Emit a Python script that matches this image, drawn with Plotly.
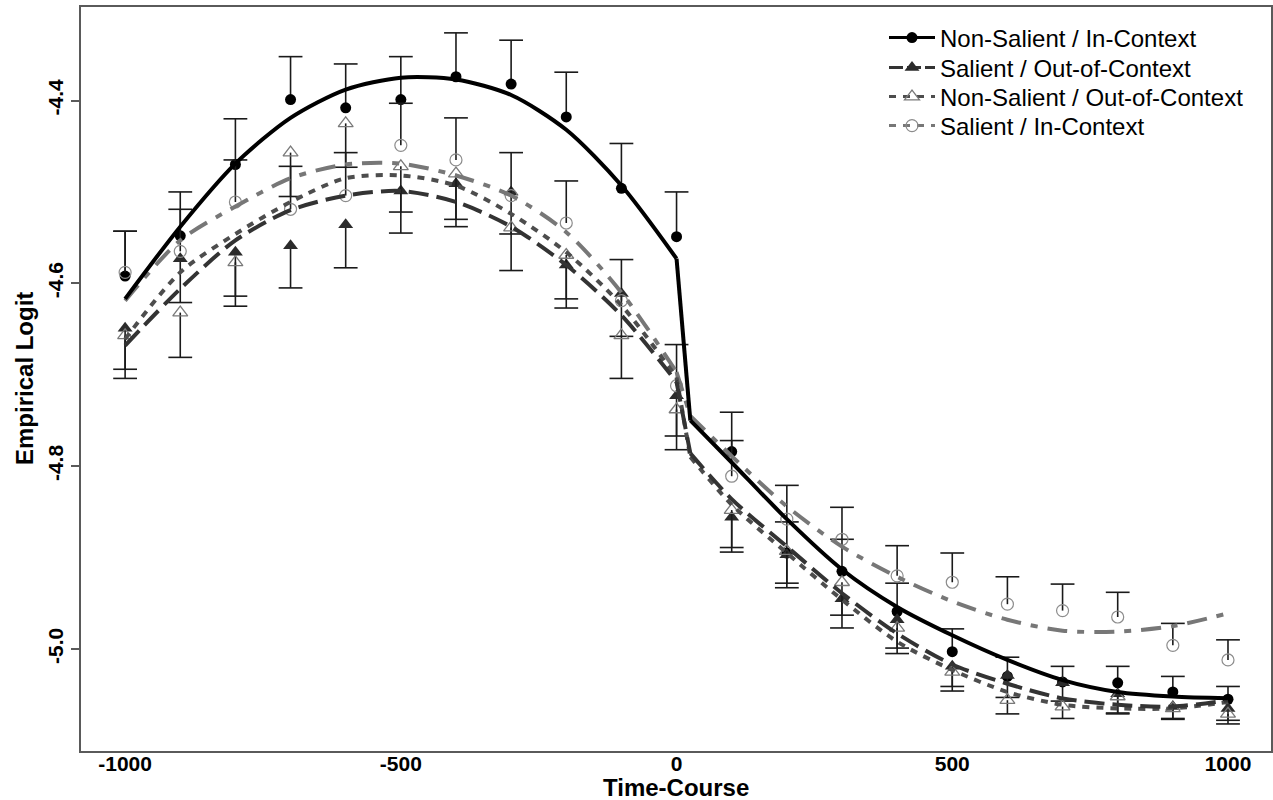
import plotly.graph_objects as go

# ---------------- data ----------------
time_points = [-1000, -900, -800, -700, -600, -500, -400, -300, -200, -100, 0,
               100, 200, 300, 400, 500, 600, 700, 800, 900, 1000]
fit_x_pre = [-1000, -900, -800, -700, -600, -500, -400, -300, -200, -100, 0]
fit_x_post = [25, 100, 200, 300, 400, 500, 600, 700, 800, 900, 1000]

# Non-Salient / In-Context (filled circles, upper error bars)
ns_ic_mean = [-4.592, -4.548, -4.470, -4.399, -4.408, -4.399, -4.374, -4.382, -4.418, -4.496, -4.549,
              -4.784, -4.895, -4.915, -4.959, -5.003, -5.030, -5.036, -5.037, -5.047, -5.055]
ns_ic_se = [0.049, 0.048, 0.050, 0.047, 0.048, 0.047, 0.048, 0.048, 0.049, 0.049, 0.049,
            0.043, 0.034, 0.035, 0.031, 0.025, 0.021, 0.017, 0.018, 0.017, 0.014]
ns_ic_fit_pre = [-4.617, -4.538, -4.469, -4.419, -4.388, -4.375, -4.377, -4.394, -4.432, -4.493, -4.573]
ns_ic_fit_post = [-4.750, -4.796, -4.858, -4.913, -4.954, -4.985, -5.012, -5.034, -5.047, -5.052, -5.054]

# Salient / Out-of-Context (filled triangles, lower error bars)
sal_oc_mean = [-4.649, -4.573, -4.566, -4.559, -4.536, -4.499, -4.491, -4.500, -4.580, -4.611, -4.723,
               -4.856, -4.897, -4.945, -4.968, -5.019, -5.029, -5.037, -5.049, -5.063, -5.065]
sal_oc_se = [0.045, 0.048, 0.048, 0.046, 0.047, 0.046, 0.047, 0.046, 0.047, 0.047, 0.044,
             0.038, 0.036, 0.032, 0.031, 0.022, 0.024, 0.020, 0.022, 0.014, 0.013]
sal_oc_fit_pre = [-4.668, -4.606, -4.553, -4.520, -4.504, -4.499, -4.511, -4.538, -4.580, -4.635, -4.708]
sal_oc_fit_post = [-4.786, -4.836, -4.888, -4.939, -4.983, -5.017, -5.038, -5.054, -5.061, -5.063, -5.056]

# Non-Salient / Out-of-Context (open triangles, lower error bars)
ns_oc_mean = [-4.657, -4.632, -4.577, -4.457, -4.425, -4.472, -4.480, -4.539, -4.569, -4.657, -4.738,
              -4.848, -4.893, -4.927, -4.977, -5.025, -5.056, -5.063, -5.052, -5.065, -5.071]
ns_oc_se = [0.047, 0.049, 0.048, 0.048, 0.048, 0.050, 0.050, 0.047, 0.048, 0.047, 0.044,
            0.041, 0.035, 0.036, 0.028, 0.021, 0.015, 0.013, 0.018, 0.011, 0.011]
ns_oc_fit_pre = [-4.661, -4.588, -4.546, -4.511, -4.485, -4.482, -4.493, -4.524, -4.566, -4.624, -4.703]
ns_oc_fit_post = [-4.790, -4.842, -4.895, -4.946, -4.992, -5.023, -5.047, -5.061, -5.065, -5.065, -5.058]

# Salient / In-Context (open circles, upper error bars)
sal_ic_mean = [-4.588, -4.565, -4.511, -4.519, -4.504, -4.449, -4.465, -4.504, -4.534, -4.619, -4.712,
               -4.811, -4.858, -4.880, -4.920, -4.927, -4.951, -4.958, -4.965, -4.996, -5.012]
sal_ic_se = [0.045, 0.046, 0.046, 0.047, 0.047, 0.046, 0.046, 0.047, 0.046, 0.045, 0.045,
             0.039, 0.037, 0.035, 0.033, 0.032, 0.030, 0.029, 0.027, 0.024, 0.022]
sal_ic_fit_pre = [-4.619, -4.553, -4.516, -4.485, -4.470, -4.469, -4.482, -4.504, -4.544, -4.610, -4.697]
sal_ic_fit_post = [-4.745, -4.789, -4.844, -4.888, -4.921, -4.948, -4.968, -4.980, -4.981, -4.975, -4.961]

series_names = ["Non-Salient / In-Context", "Salient / Out-of-Context",
                "Non-Salient / Out-of-Context", "Salient / In-Context"]
y_tick_vals = [-5.0, -4.8, -4.6, -4.4]
y_tick_text = ["-5.0", "-4.8", "-4.6", "-4.4"]
x_tick_vals = [-1000, -500, 0, 500, 1000]
x_tick_text = ["-1000", "-500", "0", "500", "1000"]
x_title = "Time-Course"
y_title = "Empirical Logit"

# ---------------- styling ----------------
FONT = "Liberation Sans, Arial, Helvetica, sans-serif"
BAR = "#1a1a1a"
W, H = 1273, 800
ML, MR, MT, MB = 81, 2, 7, 49
PW, PH = W - ML - MR, H - MT - MB

series = [
    dict(name=series_names[0], mean=ns_ic_mean, se=ns_ic_se, up=True,
         pre=ns_ic_fit_pre, post=ns_ic_fit_post,
         lcolor="#000000", dash="solid", lwidth=4, legdash="solid",
         marker=dict(symbol="circle", size=11, color="#000000",
                     line=dict(width=0, color="#000000"))),
    dict(name=series_names[1], mean=sal_oc_mean, se=sal_oc_se, up=False,
         pre=sal_oc_fit_pre, post=sal_oc_fit_post,
         lcolor="#333333", dash="20px,8px", lwidth=4, legdash="14px,4px",
         marker=dict(symbol="triangle-up", size=13, color="#2b2b2b",
                     line=dict(width=0, color="#2b2b2b"))),
    dict(name=series_names[2], mean=ns_oc_mean, se=ns_oc_se, up=False,
         pre=ns_oc_fit_pre, post=ns_oc_fit_post,
         lcolor="#4d4d4d", dash="7px,7px", lwidth=4, legdash="7px,7px",
         marker=dict(symbol="triangle-up-open", size=13, color="#7a7a7a",
                     line=dict(width=1.3, color="#7a7a7a"))),
    dict(name=series_names[3], mean=sal_ic_mean, se=sal_ic_se, up=True,
         pre=sal_ic_fit_pre, post=sal_ic_fit_post,
         lcolor="#777777", dash="20px,10px,7px,10px", lwidth=4, legdash="7px,7px",
         marker=dict(symbol="circle-open", size=12, color="#8c8c8c",
                     line=dict(width=1.2, color="#8c8c8c"))),
]

fig = go.Figure()

# points with one-sided error bars
for s in series:
    zeros = [0] * len(s["se"])
    err = dict(type="data", symmetric=False,
               array=s["se"] if s["up"] else zeros,
               arrayminus=zeros if s["up"] else s["se"],
               width=0, thickness=1.6, color=BAR)
    caps = [m + e if s["up"] else m - e for m, e in zip(s["mean"], s["se"])]
    fig.add_trace(go.Scatter(x=time_points, y=caps, mode="markers",
                             marker=dict(symbol="line-ew", size=17,
                                         line=dict(width=1.6, color=BAR)),
                             showlegend=False, hoverinfo="skip"))
    fig.add_trace(go.Scatter(x=time_points, y=s["mean"], mode="markers",
                             marker=s["marker"], error_y=err,
                             showlegend=False, hoverinfo="skip"))

# fitted curves (piecewise: before and after time 0)
for s in reversed(series):
    ln = dict(color=s["lcolor"], width=s["lwidth"], dash=s["dash"])
    fig.add_trace(go.Scatter(x=fit_x_pre, y=s["pre"], mode="lines",
                             line=dict(shape="spline", smoothing=0.8, **ln),
                             showlegend=False, hoverinfo="skip"))
    fig.add_trace(go.Scatter(x=[fit_x_pre[-1], fit_x_post[0]],
                             y=[s["pre"][-1], s["post"][0]], mode="lines",
                             line=ln, showlegend=False, hoverinfo="skip"))
    fig.add_trace(go.Scatter(x=fit_x_post, y=s["post"], mode="lines",
                             line=dict(shape="spline", smoothing=0.8, **ln),
                             showlegend=False, hoverinfo="skip"))

# legend entries: one small legend per row, so the rows sit where the reference has them
legend_row_px = [38, 68, 97, 126]
legend_ids = ["legend", "legend2", "legend3", "legend4"]
legend_layout = {}
for s, lid, ypx in zip(series, legend_ids, legend_row_px):
    fig.add_trace(go.Scatter(x=[None], y=[None], mode="lines+markers",
                             name=s["name"], marker=s["marker"], legend=lid,
                             line=dict(color=s["lcolor"], width=s["lwidth"] - 1,
                                       dash=s["legdash"])))
    legend_layout[lid] = dict(
        x=(884 - ML) / PW, y=(H - MB - ypx) / PH, xanchor="left", yanchor="middle",
        bgcolor="rgba(0,0,0,0)", borderwidth=0, itemwidth=46,
        font=dict(family=FONT, size=24, color="#000000"))

axis_common = dict(showgrid=False, zeroline=False, showline=True, mirror=True,
                   linecolor="#5a5a5a", linewidth=1.5, automargin=False)

fig.update_layout(
    width=W, height=H,
    margin=dict(l=ML, r=MR, t=MT, b=MB, autoexpand=False),
    paper_bgcolor="white", plot_bgcolor="white",
    font=dict(family=FONT, color="#000000"),
    showlegend=True,
    xaxis=dict(range=[-1080, 1078], tickmode="array", tickvals=x_tick_vals,
               ticktext=x_tick_text, ticks="", ticklabelstandoff=-7,
               tickfont=dict(family=FONT, size=21, weight="bold"),
               **axis_common),
    yaxis=dict(range=[-5.1116, -4.2977], tickmode="array", tickvals=y_tick_vals,
               ticktext=y_tick_text, ticks="outside", ticklen=8, tickcolor="#5a5a5a",
               tickwidth=1.5, tickangle=-90,
               tickfont=dict(family=FONT, size=21, weight="bold"),
               **axis_common),
    annotations=[
        dict(text=x_title, xref="paper", yref="paper", x=0.5, y=(H - MB - 787) / PH,
             xanchor="center", yanchor="middle", showarrow=False,
             font=dict(family=FONT, size=24, weight="bold", color="#000000")),
        dict(text=y_title, xref="paper", yref="paper", x=(24 - ML) / PW, y=0.5,
             xanchor="center", yanchor="middle", showarrow=False, textangle=-90,
             font=dict(family=FONT, size=24, weight="bold", color="#000000")),
    ],
    **legend_layout,
)

# the page's default 8px body margin would shift the figure; remove it
fig.write_html("out.html", config={"displayModeBar": False},
               post_script="document.body.style.margin='0px';")
